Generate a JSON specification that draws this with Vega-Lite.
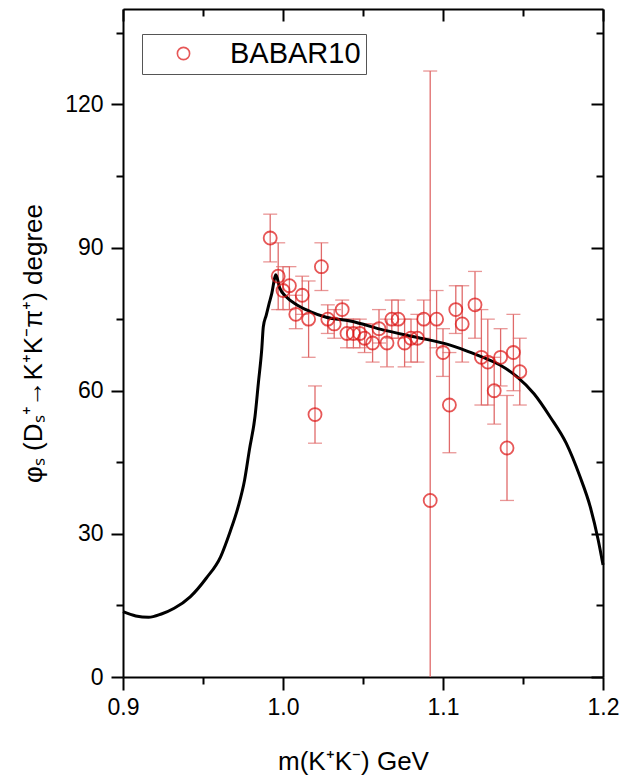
{
  "$schema": "https://vega.github.io/schema/vega-lite/v6.json",
  "width": 480,
  "height": 668,
  "autosize": "none",
  "padding": {"left": 123, "top": 9, "right": 36, "bottom": 103},
  "config": {
    "view": {"stroke": null},
    "font": "Liberation Sans",
    "axis": {
      "grid": false,
      "domainColor": "black",
      "domainWidth": 2,
      "tickColor": "black",
      "tickWidth": 2,
      "labelColor": "black",
      "labelFont": "Liberation Sans",
      "labelFontSize": 23,
      "titleFont": "Liberation Sans",
      "titleFontSize": 26,
      "titleFontWeight": "normal",
      "titleColor": "black"
    }
  },
  "datasets": {
    "curve": [
      {"m": 0.900, "phi": 13.7}, {"m": 0.908, "phi": 12.8}, {"m": 0.916, "phi": 12.5},
      {"m": 0.924, "phi": 13.2}, {"m": 0.932, "phi": 14.4}, {"m": 0.942, "phi": 16.8},
      {"m": 0.952, "phi": 20.7}, {"m": 0.961, "phi": 25.2}, {"m": 0.967, "phi": 30.5},
      {"m": 0.972, "phi": 35.7}, {"m": 0.976, "phi": 41.3}, {"m": 0.979, "phi": 47.6},
      {"m": 0.9825, "phi": 54.6}, {"m": 0.9846, "phi": 61.6}, {"m": 0.9867, "phi": 68.6},
      {"m": 0.9877, "phi": 73.4}, {"m": 0.9895, "phi": 75.8}, {"m": 0.9915, "phi": 78.5},
      {"m": 0.993, "phi": 80.4}, {"m": 0.995, "phi": 83.9}, {"m": 0.9955, "phi": 84.3},
      {"m": 0.998, "phi": 81.5}, {"m": 1.002, "phi": 79.7}, {"m": 1.0085, "phi": 78.0},
      {"m": 1.017, "phi": 76.6}, {"m": 1.027, "phi": 75.4}, {"m": 1.042, "phi": 74.6},
      {"m": 1.063, "phi": 72.7}, {"m": 1.0835, "phi": 71.2}, {"m": 1.104, "phi": 69.6},
      {"m": 1.115, "phi": 68.3}, {"m": 1.125, "phi": 67.0}, {"m": 1.1356, "phi": 65.4},
      {"m": 1.146, "phi": 63.0}, {"m": 1.157, "phi": 59.3}, {"m": 1.167, "phi": 54.5},
      {"m": 1.177, "phi": 49.0}, {"m": 1.1856, "phi": 42.0}, {"m": 1.192, "phi": 35.7},
      {"m": 1.197, "phi": 28.7}, {"m": 1.200, "phi": 23.5}
    ],
    "babar": [
      {"m": 0.992, "phi": 92, "lo": 87, "hi": 97},
      {"m": 0.997, "phi": 84, "lo": 77, "hi": 91},
      {"m": 1.000, "phi": 81, "lo": 77, "hi": 86},
      {"m": 1.004, "phi": 82, "lo": 77, "hi": 86},
      {"m": 1.008, "phi": 76, "lo": 73, "hi": 80},
      {"m": 1.012, "phi": 80, "lo": 76, "hi": 84},
      {"m": 1.016, "phi": 75, "lo": 67, "hi": 83},
      {"m": 1.020, "phi": 55, "lo": 49, "hi": 61},
      {"m": 1.024, "phi": 86, "lo": 81, "hi": 91},
      {"m": 1.028, "phi": 75, "lo": 72, "hi": 78},
      {"m": 1.032, "phi": 74, "lo": 71, "hi": 77},
      {"m": 1.037, "phi": 77, "lo": 75, "hi": 79},
      {"m": 1.040, "phi": 72, "lo": 69, "hi": 75},
      {"m": 1.044, "phi": 72, "lo": 69, "hi": 75},
      {"m": 1.048, "phi": 72, "lo": 69, "hi": 75},
      {"m": 1.051, "phi": 71, "lo": 68, "hi": 74},
      {"m": 1.056, "phi": 70, "lo": 66, "hi": 74},
      {"m": 1.060, "phi": 73, "lo": 70, "hi": 77},
      {"m": 1.065, "phi": 70, "lo": 65, "hi": 75},
      {"m": 1.068, "phi": 75, "lo": 71, "hi": 79},
      {"m": 1.072, "phi": 75, "lo": 71, "hi": 79},
      {"m": 1.076, "phi": 70, "lo": 65, "hi": 75},
      {"m": 1.080, "phi": 71, "lo": 66, "hi": 75},
      {"m": 1.084, "phi": 71, "lo": 66, "hi": 76},
      {"m": 1.088, "phi": 75, "lo": 71, "hi": 79},
      {"m": 1.092, "phi": 37, "lo": -53, "hi": 127},
      {"m": 1.096, "phi": 75, "lo": 69, "hi": 81},
      {"m": 1.100, "phi": 68, "lo": 63, "hi": 73},
      {"m": 1.104, "phi": 57, "lo": 47, "hi": 68},
      {"m": 1.108, "phi": 77, "lo": 72, "hi": 82},
      {"m": 1.112, "phi": 74, "lo": 66, "hi": 82},
      {"m": 1.120, "phi": 78, "lo": 71, "hi": 85},
      {"m": 1.124, "phi": 67, "lo": 57, "hi": 77},
      {"m": 1.128, "phi": 66, "lo": 57, "hi": 75},
      {"m": 1.132, "phi": 60, "lo": 53, "hi": 67},
      {"m": 1.136, "phi": 67, "lo": 61, "hi": 73},
      {"m": 1.140, "phi": 48, "lo": 37, "hi": 59},
      {"m": 1.144, "phi": 68, "lo": 60, "hi": 76},
      {"m": 1.148, "phi": 64, "lo": 57, "hi": 71}
    ]
  },
  "layer": [
    {
      "data": {"name": "babar"},
      "mark": {"type": "rule", "color": "#e06a6a", "strokeWidth": 1.3, "clip": true},
      "encoding": {
        "x": {
          "field": "m", "type": "quantitative",
          "scale": {"domain": [0.9, 1.2], "nice": false, "zero": false},
          "axis": {
            "orient": "bottom",
            "values": [0.9, 1.0, 1.1, 1.2],
            "format": ".1f",
            "tickSize": 13,
            "labelPadding": 6,
            "labelFlush": false,
            "title": "m(K⁺K⁻) GeV",
            "titleX": 230,
            "titleY": 84,
            "titleBaseline": "middle",
            "titleAlign": "center"
          }
        },
        "y": {
          "field": "lo", "type": "quantitative",
          "scale": {"domain": [0, 140], "nice": false},
          "axis": {
            "orient": "left",
            "values": [0, 30, 60, 90, 120],
            "tickSize": 12,
            "labelPadding": 8,
            "labelFlush": false,
            "title": "φₛ (Dₛ⁺→K⁺K⁻π⁺) degree",
            "titleX": -90,
            "titleY": 334,
            "titleAngle": -90,
            "titleBaseline": "middle",
            "titleAlign": "center"
          }
        },
        "y2": {"field": "hi"}
      }
    },
    {
      "data": {"name": "babar"},
      "mark": {"type": "tick", "orient": "horizontal", "color": "#e06a6a", "size": 14, "thickness": 1.3, "clip": true},
      "encoding": {
        "x": {
          "field": "m", "type": "quantitative",
          "axis": {"orient": "top", "values": [0.9, 1.0, 1.1, 1.2], "labels": false, "title": null, "tickSize": -12}
        },
        "y": {
          "field": "lo", "type": "quantitative",
          "axis": {"orient": "right", "values": [0, 30, 60, 90, 120], "labels": false, "title": null, "tickSize": -12}
        }
      }
    },
    {
      "data": {"name": "babar"},
      "mark": {"type": "tick", "orient": "horizontal", "color": "#e06a6a", "size": 14, "thickness": 1.3, "clip": true},
      "encoding": {
        "x": {
          "field": "m", "type": "quantitative",
          "axis": {"orient": "bottom", "values": [0.95, 1.05, 1.15], "labels": false, "domain": false, "title": null, "tickSize": 7}
        },
        "y": {
          "field": "hi", "type": "quantitative",
          "axis": {"orient": "left", "values": [15, 45, 75, 105, 135], "labels": false, "domain": false, "title": null, "tickSize": 7}
        }
      }
    },
    {
      "data": {"name": "curve"},
      "mark": {"type": "line", "color": "black", "strokeWidth": 3, "interpolate": "monotone"},
      "encoding": {
        "x": {
          "field": "m", "type": "quantitative",
          "axis": {"orient": "top", "values": [0.95, 1.05, 1.15], "labels": false, "domain": false, "title": null, "tickSize": -7}
        },
        "y": {
          "field": "phi", "type": "quantitative",
          "axis": {"orient": "right", "values": [15, 45, 75, 105, 135], "labels": false, "domain": false, "title": null, "tickSize": -7}
        }
      }
    },
    {
      "data": {"name": "babar"},
      "mark": {"type": "point", "shape": "circle", "filled": false, "size": 170, "strokeWidth": 1.8},
      "encoding": {
        "x": {"field": "m", "type": "quantitative", "axis": null},
        "y": {"field": "phi", "type": "quantitative", "axis": null},
        "color": {
          "datum": "BABAR10",
          "scale": {"range": ["#dd1111"]},
          "legend": {
            "orient": "none",
            "legendX": 19,
            "legendY": 25,
            "title": null,
            "padding": 5,
            "strokeColor": "#555555",
            "symbolType": "circle",
            "symbolSize": 150,
            "symbolStrokeWidth": 1.6,
            "symbolOffset": 22,
            "labelOffset": 32,
            "labelFont": "Liberation Sans",
            "labelFontSize": 29,
            "labelColor": "black"
          }
        }
      }
    }
  ],
  "resolve": {"axis": {"x": "independent", "y": "independent"}}
}
